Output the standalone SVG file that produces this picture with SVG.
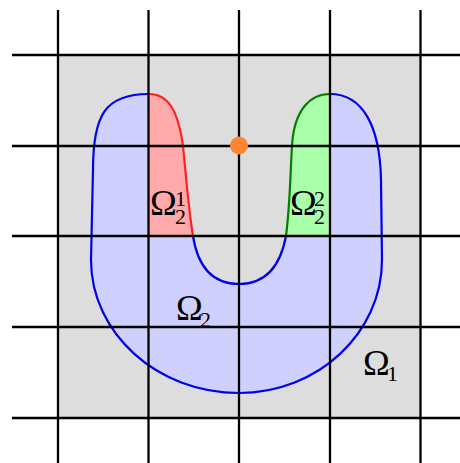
<svg xmlns="http://www.w3.org/2000/svg" width="460" height="463" viewBox="0 0 460 463">
<style>
.grid{stroke:#000;stroke-width:2.3;fill:none}
.lbl{font-family:"Liberation Serif","DejaVu Serif",serif;fill:#000}
.big{font-size:36px}
.small{font-size:22px}
</style>
<rect x="0" y="0" width="460" height="463" fill="#fff"/>
<rect id="omega1-area" x="58" y="55" width="362.5" height="363" fill="#dddddd"/>
<g id="omega2">
<path d="M149,94 C105,94 93,115 93,170 L91,260 C91,333 157,393 239,393 C318,393 382,333 382,260 L381,180 C380,125 362,94 330,94 C310,94 294,110 292,146 C290,180 290,205 286,236 C280,268 265,284 239,284 C213,284 198,268 193,236 C188,205 186,175 183,146 C178,110 168,94 149,94 Z" fill="#d0d0ff"/>
<path d="M149,94 C168,94 178,110 183,146 C186,175 188,205 193,236 L149,236 Z" fill="#ffaaaa"/>
<path d="M330,94 C310,94 294,110 292,146 C290,180 290,205 286,236 L330,236 Z" fill="#aaffaa"/>
<path d="M149,94 C105,94 93,115 93,170 L91,260 C91,333 157,393 239,393 C318,393 382,333 382,260 L381,180 C380,125 362,94 330,94" fill="none" stroke="#0000ee" stroke-width="2.2"/>
<path d="M286,236 C280,268 265,284 239,284 C213,284 198,268 193,236" fill="none" stroke="#0000ee" stroke-width="2.2"/>
<path d="M149,94 C168,94 178,110 183,146 C186,175 188,205 193,236" fill="none" stroke="#ff2020" stroke-width="2.2"/>
<path d="M330,94 C310,94 294,110 292,146 C290,180 290,205 286,236" fill="none" stroke="#008000" stroke-width="2.2"/>
</g>
<g id="grid" class="grid">
<line x1="58" y1="10" x2="58" y2="463"/>
<line x1="148.5" y1="10" x2="148.5" y2="463"/>
<line x1="239" y1="10" x2="239" y2="463"/>
<line x1="330" y1="10" x2="330" y2="463"/>
<line x1="420.5" y1="10" x2="420.5" y2="463"/>
<line x1="12" y1="55" x2="460" y2="55"/>
<line x1="12" y1="146" x2="460" y2="146"/>
<line x1="12" y1="236" x2="460" y2="236"/>
<line x1="12" y1="327" x2="460" y2="327"/>
<line x1="12" y1="418" x2="460" y2="418"/>
</g>
<circle id="point" cx="239" cy="145.5" r="9" fill="#ff8533"/>
<g id="labels">
<text class="lbl"><tspan class="big" x="150" y="215">Ω</tspan><tspan class="small" x="175" y="206">1</tspan><tspan class="small" x="175" y="224">2</tspan></text>
<text class="lbl"><tspan class="big" x="290" y="215">Ω</tspan><tspan class="small" x="314" y="206">2</tspan><tspan class="small" x="314" y="224">2</tspan></text>
<text class="lbl"><tspan class="big" x="176" y="320">Ω</tspan><tspan class="small" x="200" y="327">2</tspan></text>
<text class="lbl"><tspan class="big" x="363" y="375">Ω</tspan><tspan class="small" x="387" y="381">1</tspan></text>
</g>
</svg>
